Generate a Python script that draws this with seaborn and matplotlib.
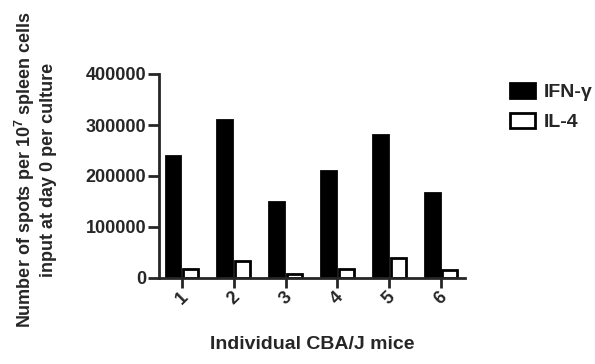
import matplotlib
matplotlib.use("Agg")
import matplotlib.pyplot as plt
import seaborn as sns
import pandas as pd
from matplotlib.patches import Patch

mice = ["1", "2", "3", "4", "5", "6"]
ifn_gamma = [240000, 310000, 150000, 210000, 280000, 167000]
il4 = [18000, 33000, 8500, 18000, 38500, 15500]
series_names = ["IFN-\u03b3", "IL-4"]
y_ticks = [0, 100000, 200000, 300000, 400000]

df = pd.DataFrame({
    "mouse": mice * 2,
    "value": ifn_gamma + il4,
    "cytokine": [series_names[0]] * len(mice) + [series_names[1]] * len(mice),
})

sns.set_style("ticks")
plt.rcParams["font.family"] = ["Liberation Sans", "DejaVu Sans"]
plt.rcParams["font.weight"] = "bold"
plt.rcParams["mathtext.fontset"] = "custom"
plt.rcParams["mathtext.rm"] = "Liberation Sans:bold"
plt.rcParams["mathtext.bf"] = "Liberation Sans:bold"

fig = plt.figure(figsize=(5.95, 3.64), dpi=100)
ax = fig.add_axes([159 / 595, 1 - 278 / 364, (465 - 159) / 595, (278 - 74) / 364])

sns.barplot(data=df, x="mouse", y="value", hue="cytokine", order=mice,
            hue_order=series_names,
            palette={series_names[0]: "black", series_names[1]: "white"},
            edgecolor="black", linewidth=2, width=0.68, gap=0.15,
            errorbar=None, ax=ax, legend=False)

ax.set_xlim(-0.44, 5.46)
ax.set_ylim(0, 400000)
ax.set_yticks(y_ticks)
ax.set_yticklabels([str(v) for v in y_ticks], fontsize=13, fontweight="bold")
ax.set_xticks(range(len(mice)))
ax.set_xticklabels(mice, rotation=45, fontsize=13, fontweight="bold",
                   ha="center", va="top")
for side in ["top", "right"]:
    ax.spines[side].set_visible(False)
for side in ["left", "bottom"]:
    ax.spines[side].set_linewidth(2)
ax.tick_params(axis="y", length=8, width=2, pad=1)
ax.tick_params(axis="x", length=7, width=2, pad=1)

ax.set_xlabel("Individual CBA/J mice", fontsize=14, fontweight="bold", labelpad=20)
ax.set_ylabel("Number of spots per 10$^7$ spleen cells\ninput at day 0 per culture",
              fontsize=13, fontweight="bold", labelpad=21)
ax.yaxis.label.set_y(0.53)

handles = [Patch(facecolor="black", edgecolor="black", linewidth=2),
           Patch(facecolor="white", edgecolor="black", linewidth=2)]
fig.legend(handles, series_names, loc="upper left",
           bbox_to_anchor=(500 / 595, 1 - 73 / 364), frameon=False,
           borderpad=0, handlelength=1.3, handleheight=0.85,
           labelspacing=0.6, handletextpad=0.45,
           prop={"size": 14, "weight": "bold"})

fig.savefig("out.png", dpi=100)
